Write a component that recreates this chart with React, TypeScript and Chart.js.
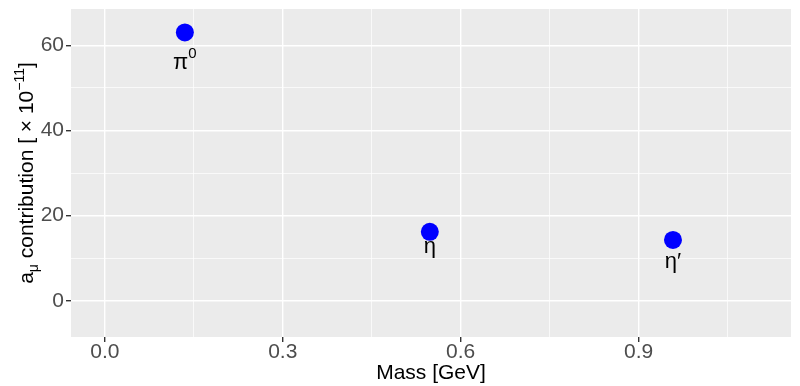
import { useEffect, useRef } from "react";
import { Chart, registerables } from "chart.js";

Chart.register(...registerables);

// ---- data ----
const particleNames = ["π", "η", "η′"];
const particleSups = ["0", "", ""];
const masses = [0.135, 0.548, 0.958];
const contributions = [63.0, 16.2, 14.3];
const labelYs = [54.4, 11.2, 7.7];

const xMajorTicks = [0, 0.3, 0.6, 0.9];
const xMinorTicks = [0.15, 0.45, 0.75, 1.05];
const xTickLabels = ["0.0", "0.3", "0.6", "0.9"];
const yMajorTicks = [0, 20, 40, 60];
const yMinorTicks = [10, 30, 50];
const yTickLabels = ["0", "20", "40", "60"];
const xLimits = [-0.057, 1.157];
const yLimits = [-8.5, 68.5];

const FONT = "'Liberation Sans', Arial, Helvetica, sans-serif";

const findIdx = (arr: number[], v: number) =>
  arr.findIndex((a) => Math.abs(a - v) < 1e-9);

type Seg = { t: string; size: number; dy: number };

function drawSegs(ctx: CanvasRenderingContext2D, segs: Seg[], cx: number, y: number, color: string) {
  let total = 0;
  const widths = segs.map((s) => {
    ctx.font = `${s.size}px ${FONT}`;
    const w = ctx.measureText(s.t).width;
    total += w;
    return w;
  });
  let x = cx - total / 2;
  ctx.fillStyle = color;
  ctx.textAlign = "left";
  ctx.textBaseline = "alphabetic";
  segs.forEach((s, i) => {
    ctx.font = `${s.size}px ${FONT}`;
    ctx.fillText(s.t, x, y + s.dy);
    x += widths[i];
  });
}

const panelPlugin = {
  id: "panelPlugin",
  beforeDraw(chart: any) {
    const { ctx, chartArea } = chart;
    const { left, top, right, bottom } = chartArea;
    ctx.save();
    ctx.fillStyle = "#EBEBEB";
    ctx.fillRect(left, top, right - left, bottom - top);
    ctx.restore();
  },
  afterDatasetsDraw(chart: any) {
    const { ctx } = chart;
    const xs = chart.scales.x;
    const ys = chart.scales.y;
    ctx.save();
    for (let i = 0; i < particleNames.length; i++) {
      const px = xs.getPixelForValue(masses[i]);
      const py = ys.getPixelForValue(labelYs[i]);
      const segs: Seg[] = [{ t: particleNames[i], size: 22, dy: 0 }];
      if (particleSups[i]) segs.push({ t: particleSups[i], size: 15, dy: -11 });
      drawSegs(ctx, segs, px, py, "#000000");
    }
    ctx.restore();
  },
  afterDraw(chart: any) {
    const { ctx, chartArea } = chart;
    const cy = (chartArea.top + chartArea.bottom) / 2;
    ctx.save();
    ctx.translate(33, cy);
    ctx.rotate(-Math.PI / 2);
    const segs: Seg[] = [
      { t: "a", size: 21, dy: 0 },
      { t: "μ", size: 14, dy: 5 },
      { t: " contribution [ × 10", size: 21, dy: 0 },
      { t: "−11", size: 14, dy: -9 },
      { t: "]", size: 21, dy: 0 },
    ];
    drawSegs(ctx, segs, 0, 0, "#000000");
    ctx.restore();
  },
};

export default function App() {
  const ref = useRef<HTMLCanvasElement | null>(null);

  useEffect(() => {
    if (!ref.current) return;
    const chart = new Chart(ref.current, {
      type: "scatter",
      data: {
        datasets: [
          {
            data: masses.map((m, i) => ({ x: m, y: contributions[i] })),
            backgroundColor: "#0000FF",
            borderWidth: 0,
            pointRadius: 9,
            pointHoverRadius: 9,
          },
        ],
      },
      options: {
        animation: false,
        responsive: false,
        events: [],
        layout: { padding: { top: 7, right: 2, left: 0, bottom: 0 } },
        plugins: { legend: { display: false }, tooltip: { enabled: false } },
        scales: {
          x: {
            type: "linear",
            min: xLimits[0],
            max: xLimits[1],
            afterBuildTicks: (s: any) => {
              s.ticks = [...xMajorTicks, ...xMinorTicks]
                .sort((a, b) => a - b)
                .map((v) => ({ value: v }));
            },
            afterFit: (s: any) => {
              s.height = 49;
              s.paddingLeft = 0;
              s.paddingRight = 0;
            },
            border: { display: false },
            grid: {
              color: "#FFFFFF",
              lineWidth: (c: any) => (findIdx(xMajorTicks, c.tick?.value) >= 0 ? 1.4 : 0.7),
              tickColor: (c: any) =>
                findIdx(xMajorTicks, c.tick?.value) >= 0 ? "#333333" : "rgba(0,0,0,0)",
              tickLength: 5,
              drawTicks: true,
            },
            ticks: {
              autoSkip: false,
              maxRotation: 0,
              padding: -2,
              color: "#4D4D4D",
              font: { size: 21, family: FONT },
              callback: (v: any) => {
                const i = findIdx(xMajorTicks, Number(v));
                return i >= 0 ? xTickLabels[i] : "";
              },
            },
            title: {
              display: true,
              text: "Mass [GeV]",
              color: "#000000",
              font: { size: 21, family: FONT },
              padding: { top: 0, bottom: 0 },
            },
          },
          y: {
            type: "linear",
            min: yLimits[0],
            max: yLimits[1],
            afterBuildTicks: (s: any) => {
              s.ticks = [...yMajorTicks, ...yMinorTicks]
                .sort((a, b) => a - b)
                .map((v) => ({ value: v }));
            },
            afterFit: (s: any) => {
              s.width = 71;
              s.paddingTop = 0;
              s.paddingBottom = 0;
            },
            border: { display: false },
            grid: {
              color: "#FFFFFF",
              lineWidth: (c: any) => (findIdx(yMajorTicks, c.tick?.value) >= 0 ? 1.4 : 0.7),
              tickColor: (c: any) =>
                findIdx(yMajorTicks, c.tick?.value) >= 0 ? "#333333" : "rgba(0,0,0,0)",
              tickLength: 5,
              drawTicks: true,
            },
            ticks: {
              autoSkip: false,
              padding: 2,
              color: "#4D4D4D",
              font: { size: 21, family: FONT },
              callback: (v: any) => {
                const i = findIdx(yMajorTicks, Number(v));
                return i >= 0 ? yTickLabels[i] : "";
              },
            },
            title: { display: false },
          },
        },
      },
      plugins: [panelPlugin],
    } as any);
    return () => chart.destroy();
  }, []);

  return (
    <div style={{ position: "absolute", left: 0, top: 0, width: 800, height: 386, background: "#FFFFFF" }}>
      <canvas ref={ref} width={800} height={386} style={{ width: 800, height: 386, display: "block" }} />
    </div>
  );
}
